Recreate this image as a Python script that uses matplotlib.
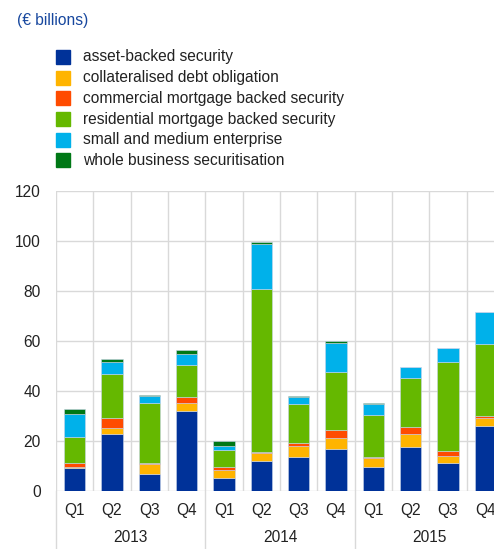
import numpy
import matplotlib
matplotlib.use("Agg")
import matplotlib.pyplot as plt
from matplotlib.patches import Rectangle
import matplotlib.transforms as mtransforms

plt.rcParams["font.family"] = ["Liberation Sans", "DejaVu Sans"]

# ── Data (€ billions) ────────────────────────────────────────────────────────
quarters = ["Q1", "Q2", "Q3", "Q4"] * 3
years = ["2013", "2014", "2015"]

series_names = [
    "asset-backed security",
    "collateralised debt obligation",
    "commercial mortgage backed security",
    "residential mortgage backed security",
    "small and medium enterprise",
    "whole business securitisation",
]
abs_vals = [9.2, 22.9, 6.8, 32.1, 5.2, 11.9, 13.6, 16.8, 9.7, 17.6, 11.3, 25.9]
cdo_vals = [0.5, 2.3, 4.0, 3.0, 3.2, 3.4, 4.3, 4.4, 3.5, 5.1, 2.6, 3.3]
cmbs_vals = [1.6, 3.9, 0.5, 2.6, 1.3, 0.2, 1.4, 3.1, 0.5, 2.9, 2.1, 0.7]
rmbs_vals = [10.4, 17.7, 24.0, 12.8, 6.6, 65.4, 15.6, 23.3, 16.8, 19.5, 35.6, 29.0]
sme_vals = [9.0, 4.7, 2.7, 4.3, 1.8, 17.8, 2.7, 11.5, 4.2, 4.6, 5.5, 12.6]
wbs_vals = [2.0, 1.4, 0.3, 1.5, 1.8, 0.9, 0.3, 0.8, 0.5, 0.0, 0.0, 0.0]

colors = ["#003299", "#FFB400", "#FF4B00", "#65B800", "#00B1EA", "#007816"]
text_blue = "#17479E"
grid_col = "#d9d9d9"
fs = 11.2

# ── Figure ───────────────────────────────────────────────────────────────────
W, H = 494, 549
fig = plt.figure(figsize=(W / 100, H / 100), dpi=100)
# plot area runs past the right edge of the picture (cropped like the source)
ax = fig.add_axes([56 / W, 58 / H, 448 / W, 300 / H])

x = numpy.arange(len(quarters))
bottom = numpy.zeros(len(quarters))
for vals, col in zip([abs_vals, cdo_vals, cmbs_vals, rmbs_vals, sme_vals, wbs_vals], colors):
    vals = numpy.array(vals)
    ax.bar(x, vals, width=0.57, bottom=bottom, color=col,
           edgecolor="#c8d4ea", linewidth=0.4, zorder=3)
    bottom += vals

ax.set_xlim(-0.5, len(quarters) - 0.5)
ax.set_ylim(0, 120)
ax.set_yticks(range(0, 121, 20))
ax.yaxis.grid(True, color=grid_col, linewidth=1.0, zorder=0)
for k in range(len(quarters) + 1):
    ax.axvline(k - 0.5, color=grid_col, linewidth=1.0, zorder=0)
for s in ax.spines.values():
    s.set_visible(False)

ax.set_xticks(x)
ax.set_xticklabels(quarters)
ax.tick_params(axis="both", length=0, labelsize=fs, colors="#222222")
ax.tick_params(axis="x", pad=9)
ax.tick_params(axis="y", pad=11)

# year labels and separators below the axis
trans = mtransforms.blended_transform_factory(ax.transData, ax.transAxes)
for i, yr in enumerate(years):
    ax.text(i * 4 + 1.5, -47 / 300, yr, transform=trans, ha="center",
            va="center", fontsize=fs, color="#222222")
for i in range(len(years) + 1):
    ax.plot([i * 4 - 0.5, i * 4 - 0.5], [0, -60 / 300], transform=trans,
            color=grid_col, linewidth=1.0, clip_on=False)

# ── Title and legend ─────────────────────────────────────────────────────────
fig.text(17 / W, 1 - 21 / H, "(€ billions)", fontsize=fs, color=text_blue,
         ha="left", va="center")
row_y = [57, 77.7, 98.4, 119.1, 139.8, 160.5]
for name, col, yy in zip(series_names, colors, row_y):
    fig.add_artist(Rectangle((56 / W, 1 - (yy + 7) / H), 14 / W, 14 / H,
                             transform=fig.transFigure, color=col))
    fig.text(83 / W, 1 - yy / H, name, fontsize=fs, color="#222222",
             ha="left", va="center")

fig.savefig("out.png", dpi=100)
